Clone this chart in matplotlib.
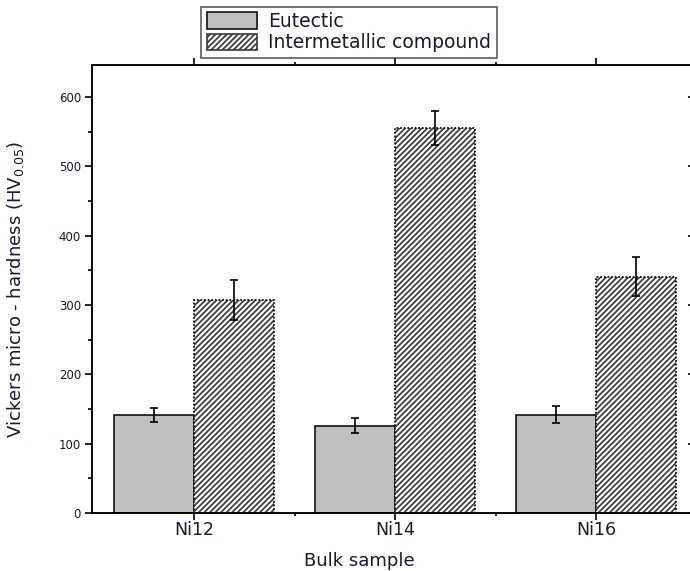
import matplotlib
matplotlib.use("Agg")
import matplotlib.pyplot as plt
from matplotlib.patches import Patch
from matplotlib.ticker import MultipleLocator, FixedLocator
import numpy as np

plt.rcParams["font.family"] = ["DejaVu Sans"]
plt.rcParams["mathtext.default"] = "regular"
plt.rcParams["hatch.linewidth"] = 1.25
plt.rcParams["hatch.color"] = "#3a3a3a"

# data
samples = ["Ni12", "Ni14", "Ni16"]
eutectic = [141, 126, 142]
eutectic_err = [10, 11, 12]
intermetallic = [307, 555, 341]
intermetallic_err = [29, 25, 28]

x = np.arange(1, len(samples) + 1)
width = 0.4
text_color = "#1a1a2e"

fig = plt.figure(figsize=(6.9, 5.71), dpi=100)
# the right spine lies just beyond the picture edge, as in the reference
ax = fig.add_axes([92 / 690, 1 - 513 / 571, 606 / 690, 448 / 571])

ax.bar(x - width / 2, eutectic, width, color="#c0c0c0", edgecolor="#111111",
       linewidth=1.2, zorder=2)
ax.bar(x + width / 2, intermetallic, width, color="white", edgecolor="#3a3a3a",
       hatch="//////", linewidth=0, zorder=2)
ax.bar(x + width / 2, intermetallic, width, fill=False, edgecolor="#111111",
       linewidth=1.3, linestyle=(0, (1, 1)), zorder=3)

ax.errorbar(x - width / 2, eutectic, yerr=eutectic_err, fmt="none",
            ecolor="black", elinewidth=1.2, capsize=3, capthick=1.2, zorder=4)
ax.errorbar(x + width / 2, intermetallic, yerr=intermetallic_err, fmt="none",
            ecolor="black", elinewidth=1.2, capsize=3, capthick=1.2, zorder=4)

ax.set_xlim(0.4925, 3.507)
ax.set_ylim(0, 646)

ax.set_xticks(x)
ax.set_xticklabels(samples, fontsize=12.5, color=text_color)
ax.xaxis.set_minor_locator(FixedLocator([1.5, 2.5]))
ax.yaxis.set_major_locator(FixedLocator([0, 100, 200, 300, 400, 500, 600]))
ax.yaxis.set_minor_locator(MultipleLocator(50))

ax.tick_params(axis="x", which="major", direction="out", length=5, width=1.2,
               pad=0.5, top=True)
ax.tick_params(axis="x", which="minor", direction="out", length=2.5, width=1.2, top=True)
ax.tick_params(axis="y", which="major", direction="out", length=5, width=1.2,
               labelsize=8.5, pad=3, labelcolor=text_color)
ax.tick_params(axis="y", which="minor", direction="out", length=3, width=1.2)

# right axis: inward major ticks only
axr = ax.twinx()
axr.set_ylim(ax.get_ylim())
axr.yaxis.set_major_locator(FixedLocator([0, 100, 200, 300, 400, 500, 600]))
axr.tick_params(axis="y", direction="in", length=7, width=1.2, labelright=False)

for a in (ax, axr):
    for side in ["left", "bottom", "top", "right"]:
        a.spines[side].set_linewidth(1.1)

ax.set_xlabel("Bulk sample", fontsize=13, color=text_color)
ax.xaxis.set_label_coords(0.4405, -0.086)
ax.set_ylabel("Vickers micro - hardness (HV$_{0.05}$)", fontsize=13, color=text_color)
ax.yaxis.set_label_coords(-0.109, 0.5)

handles = [
    Patch(facecolor="#c0c0c0", edgecolor="#111111", linewidth=1.2, label="Eutectic"),
    Patch(facecolor="white", edgecolor="#3a3a3a", hatch="//////", linewidth=1.2,
          label="Intermetallic compound"),
]
leg = fig.legend(handles=handles, loc="lower left",
                 bbox_to_anchor=(201 / 690, 1 - 58 / 571),
                 bbox_transform=fig.transFigure, borderaxespad=0,
                 fontsize=13.5, frameon=True, fancybox=False, edgecolor="#222222",
                 handlelength=2.7, handleheight=1.0, handletextpad=0.6,
                 labelspacing=0.12, borderpad=0.3)
leg.get_frame().set_linewidth(1.1)
for t in leg.get_texts():
    t.set_color(text_color)

fig.savefig("out.png", dpi=100)
